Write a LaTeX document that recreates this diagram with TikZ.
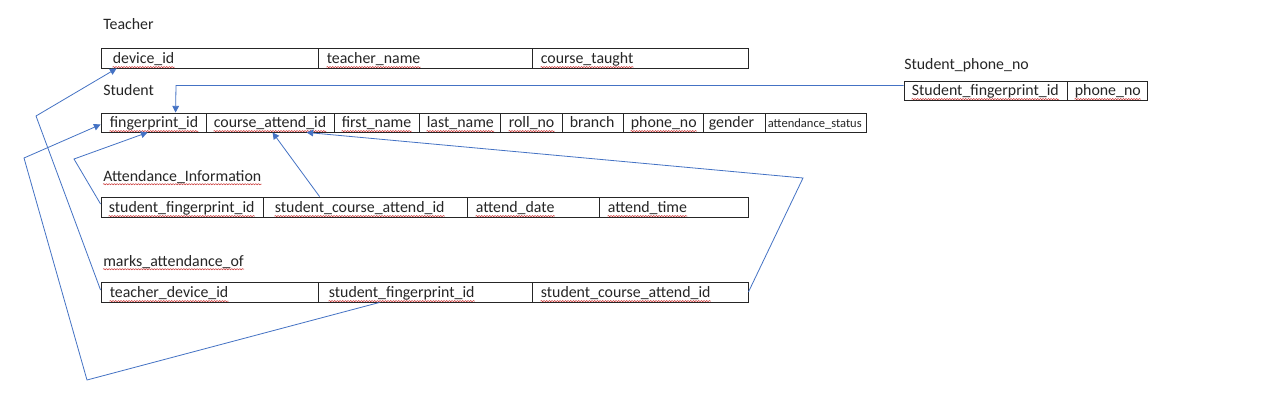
\documentclass[tikz,border=0pt]{standalone}
\usepackage{fontspec}
\setmainfont{Carlito}
\usetikzlibrary{arrows.meta,fit,calc,decorations.pathmorphing}
\definecolor{linkblue}{RGB}{68,114,196}
\definecolor{squigred}{RGB}{200,40,40}
\tikzset{
  cell/.style={draw=black!85, line width=0.65pt, inner sep=0pt},
  txt/.style={inner sep=0pt, font=\fontsize{11.9}{14}\selectfont, text=black!85},
  squig/.style={draw=squigred, line width=0.35pt, decorate,
    decoration={snake, amplitude=0.45pt, segment length=2pt}},
  conn/.style={draw=linkblue, line width=0.6pt},
  arr/.style={conn, -{Triangle[length=5pt,width=5pt]}},
}
% #1 name, #2 x1, #3 x2, #4 ytop, #5 ybottom, #6 left pad, #7 text
\newcommand\tcell[7]{%
  \node[cell, fit={(#2,#4)(#3,#5)}] (#1) {};
  \node[txt, anchor=base west] (#1t) at ([xshift=#6*0.75pt, yshift=3.4pt]#1.south west) {#7};
}
\newcommand\sqline[1]{%
  \draw[squig] ([yshift=-2.4pt]#1.base west) -- ([yshift=-2.4pt]#1.base east);
}
\begin{document}
\begin{tikzpicture}[x=0.75pt,y=-0.75pt]
\useasboundingbox (0,0) rectangle (1280,418);
\fill[white] (0,0) rectangle (1280,418);

% labels
\node[txt, anchor=base west] (lteacher) at (103,29) {Teacher};
\node[txt, anchor=base west] (lstudent) at (103,95) {Student};
\node[txt, anchor=base west] (latt) at (103,181) {Attendance\_Information};
\node[txt, anchor=base west] (lmarks) at (103,266) {marks\_attendance\_of};
\node[txt, anchor=base west] (lphone) at (904,69) {Student\_phone\_no};

% Teacher
\tcell{t1}{101}{318}{48}{68}{12}{device\_id}
\tcell{t2}{318}{532}{48}{68}{9}{teacher\_name}
\tcell{t3}{532}{748}{48}{68}{9}{course\_taught}

% Student
\tcell{s1}{101}{206}{113}{132}{9}{fingerprint\_id}
\tcell{s2}{206}{334}{113}{132}{8}{course\_attend\_id}
\tcell{s3}{334}{419}{113}{132}{8}{first\_name}
\tcell{s4}{419}{500}{113}{132}{8}{last\_name}
\tcell{s5}{500}{562}{113}{132}{9}{roll\_no}
\tcell{s6}{562}{623}{113}{132}{8}{branch}
\tcell{s7}{623}{703}{113}{132}{8}{phone\_no}
\tcell{s8}{703}{765}{113}{132}{6}{gender}
\tcell{s9}{765}{866}{113}{132}{3}{{\fontsize{9.4}{11}\selectfont attendance\_status}}

% Attendance_Information
\tcell{a1}{101}{263}{197}{217}{8}{student\_fingerprint\_id}
\tcell{a2}{263}{467}{197}{217}{12}{student\_course\_attend\_id}
\tcell{a3}{467}{599}{197}{217}{9}{attend\_date}
\tcell{a4}{599}{748}{197}{217}{9}{attend\_time}

% marks_attendance_of
\tcell{m1}{101}{318}{282}{302}{9}{teacher\_device\_id}
\tcell{m2}{318}{532}{282}{302}{11}{student\_fingerprint\_id}
\tcell{m3}{532}{748}{282}{302}{9}{student\_course\_attend\_id}

% Student_phone_no
\tcell{p1}{904}{1067}{81}{100}{8}{Student\_fingerprint\_id}
\tcell{p2}{1067}{1147}{81}{100}{8}{phone\_no}

% spell-check squiggles
\foreach \n in {t1t,t2t,t3t,s1t,s2t,s3t,s4t,s5t,s7t,a1t,a2t,a3t,a4t,m1t,m2t,m3t,p1t,p2t,latt,lmarks}{\sqline{\n}}

% connectors
\coordinate (ab1) at (36,116);
\draw[arr] ($(m1.west)+(0,-2)$) -- (ab1) -- ($(t1.south west)+(16,0)$);

\coordinate (bb1) at (87,380);
\coordinate (bb2) at (24,158);
\draw[arr] ($(m2.south west)+(62,0)$) -- (bb1) -- (bb2) -- ($(s1.west)+(0,2)$);

\coordinate (cb1) at (74,159);
\draw[arr] ($(a1.west)+(0,-3)$) -- (cb1) -- ($(s1.south west)+(47,0)$);

\draw[arr] ($(a2.north west)+(57,0)$) -- ($(s2.south west)+(67,0)$);

\coordinate (eb1) at (803,178);
\draw[arr] (m3.east) -- (eb1) -- ($(s2.south west)+(101,0)$);

\coordinate (fb1) at (176,85.5);
\draw[arr] ($(p1.west)+(0,-5)$) -- (fb1) -- ($(s1.north west)+(75,0)$);
\end{tikzpicture}
\end{document}
